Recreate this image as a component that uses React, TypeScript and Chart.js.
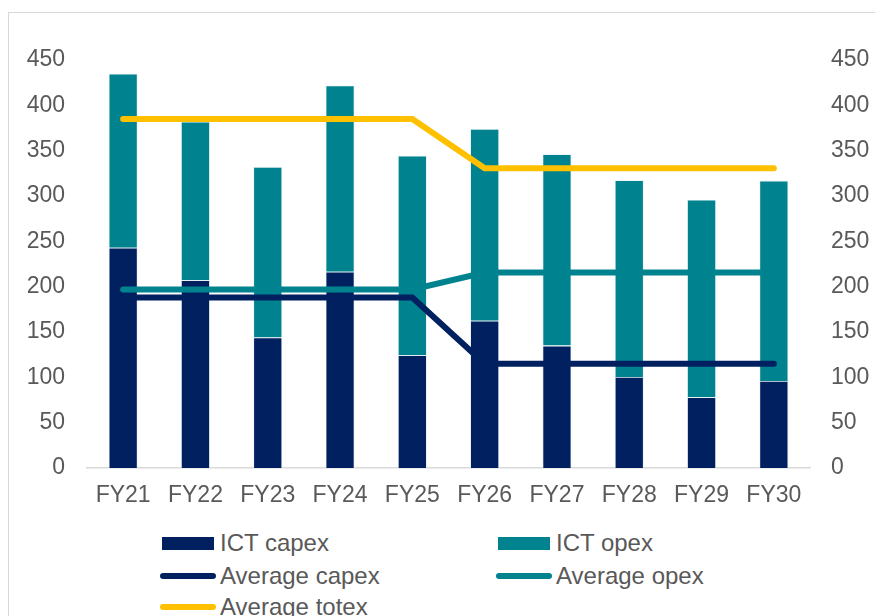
import React, { useEffect, useRef } from "react";
import { Chart, registerables } from "chart.js";

Chart.register(...registerables);

const categories = ["FY21", "FY22", "FY23", "FY24", "FY25", "FY26", "FY27", "FY28", "FY29", "FY30"];
const ictCapex = [243, 207, 144, 216.5, 124.5, 162.5, 135, 100.5, 78, 96];
const ictOpex = [192, 175, 188, 205.5, 220, 211.5, 211, 217, 218, 221];
const avgCapex = [188, 188, 188, 188, 188, 115, 115, 115, 115, 115];
const avgOpex = [197, 197, 197, 197, 197, 215.5, 215.5, 215.5, 215.5, 215.5];
const avgTotex = [385, 385, 385, 385, 385, 330.5, 330.5, 330.5, 330.5, 330.5];
const axisMin = 0;
const axisMax = 450;
const axisStep = 50;

const NAVY = "#002060";
const TEAL = "#00838F";
const GOLD = "#FFC000";
const TEXT = "#595959";
const FONT = "'Liberation Sans', Arial, sans-serif";
const BAR_EDGE = "rgba(220,235,240,0.9)";

const legendItems = [
  { label: "ICT capex", color: NAVY, kind: "box", col: 0, row: 0 },
  { label: "ICT opex", color: TEAL, kind: "box", col: 1, row: 0 },
  { label: "Average capex", color: NAVY, kind: "line", col: 0, row: 1 },
  { label: "Average opex", color: TEAL, kind: "line", col: 1, row: 1 },
  { label: "Average totex", color: GOLD, kind: "line", col: 0, row: 2 },
];

export default function App() {
  const ref = useRef<HTMLCanvasElement | null>(null);

  useEffect(() => {
    if (!ref.current) return;
    const tickFont = { family: FONT, size: 23 };
    const chart = new Chart(ref.current, {
      type: "bar",
      data: {
        labels: categories,
        datasets: [
          { type: "bar", label: "ICT capex", data: ictCapex, backgroundColor: NAVY, borderColor: BAR_EDGE, borderWidth: 0.8, yAxisID: "y", order: 2, stack: "s" },
          { type: "bar", label: "ICT opex", data: ictOpex, backgroundColor: TEAL, borderColor: BAR_EDGE, borderWidth: 0.8, yAxisID: "y", order: 2, stack: "s" },
          { type: "line", label: "Average capex", data: avgCapex, borderColor: NAVY, backgroundColor: NAVY, borderWidth: 6, pointRadius: 0, borderCapStyle: "round", yAxisID: "y1", order: 1 },
          { type: "line", label: "Average opex", data: avgOpex, borderColor: TEAL, backgroundColor: TEAL, borderWidth: 6, pointRadius: 0, borderCapStyle: "round", yAxisID: "y1", order: 1 },
          { type: "line", label: "Average totex", data: avgTotex, borderColor: GOLD, backgroundColor: GOLD, borderWidth: 6, pointRadius: 0, borderCapStyle: "round", yAxisID: "y1", order: 0 },
        ] as any,
      },
      options: {
        animation: false,
        responsive: true,
        maintainAspectRatio: false,
        layout: { padding: { top: 60, left: 0, right: 0, bottom: 0 } },
        datasets: { bar: { barPercentage: 0.4, categoryPercentage: 1 } } as any,
        plugins: { legend: { display: false }, tooltip: { enabled: false } },
        scales: {
          x: {
            stacked: true,
            grid: { display: false, drawTicks: false },
            border: { display: true, color: "#D9D9D9", width: 1.5 },
            ticks: { color: TEXT, font: tickFont, padding: 14, maxRotation: 0, autoSkip: false },
            afterFit: (s: any) => { s.height = 52; s.paddingLeft = 0; s.paddingRight = 0; },
          },
          y: {
            stacked: true,
            position: "left",
            min: axisMin,
            max: axisMax,
            grid: { display: false, drawTicks: false },
            border: { display: false },
            ticks: { stepSize: axisStep, color: TEXT, font: tickFont, padding: 22 },
            afterFit: (s: any) => { s.width = 87; s.paddingTop = 0; s.paddingBottom = 0; },
          },
          y1: {
            position: "right",
            min: axisMin,
            max: axisMax,
            grid: { display: false, drawTicks: false },
            border: { display: false },
            ticks: { stepSize: axisStep, color: TEXT, font: tickFont, padding: 21 },
            afterFit: (s: any) => { s.width = 65; s.paddingTop = 0; s.paddingBottom = 0; },
          },
        },
      } as any,
    });
    return () => chart.destroy();
  }, []);

  const colX = [162, 498];
  const rowY = [543, 575.5, 607];

  return (
    <div style={{ position: "fixed", left: 0, top: 0, width: 875, height: 616, overflow: "hidden", background: "#fff" }}>
      <div style={{ position: "absolute", left: 8, top: 12, width: 900, height: 700, borderLeft: "1px solid #D9D9D9", borderTop: "1px solid #D9D9D9" }} />
      <div style={{ position: "absolute", left: 0, top: 0, width: 875, height: 520 }}>
        <canvas ref={ref} />
      </div>
      {legendItems.map((it) => {
        const x = colX[it.col];
        const y = rowY[it.row];
        return (
          <div key={it.label}>
            {it.kind === "box" ? (
              <div style={{ position: "absolute", left: x, top: y - 6.5, width: 52, height: 13, background: it.color }} />
            ) : (
              <div style={{ position: "absolute", left: x - 2, top: y - 3, width: 56, height: 6, borderRadius: 3, background: it.color }} />
            )}
            <div style={{ position: "absolute", left: x + 58, top: y - 14, fontFamily: FONT, fontSize: 24, lineHeight: "28px", color: TEXT, whiteSpace: "nowrap" }}>
              {it.label}
            </div>
          </div>
        );
      })}
    </div>
  );
}
